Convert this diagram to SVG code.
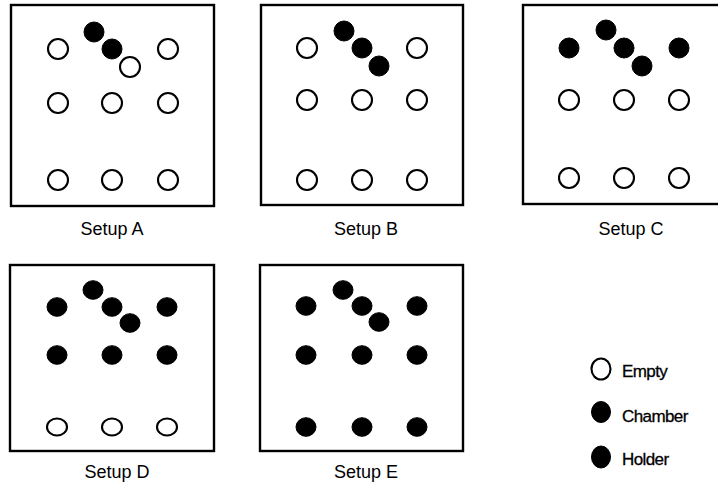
<svg xmlns="http://www.w3.org/2000/svg" width="718" height="489" viewBox="0 0 718 489">
<style>
.box{fill:#fff;stroke:#000;stroke-width:2.4}
.e{fill:#fff;stroke:#000;stroke-width:2.1}
.f{fill:#000;stroke:#000;stroke-width:1}
.lbl{font-family:"Liberation Sans",Arial,sans-serif;font-size:18px;fill:#000;text-anchor:middle}
.leg{font-family:"Liberation Sans",Arial,sans-serif;font-size:17px;fill:#000;stroke:#000;stroke-width:0.3;letter-spacing:-0.6px}
</style>
<rect width="718" height="489" fill="#fff"/>
<g id="setupA">
<rect class="box" x="11" y="5" width="203" height="201"/>
<circle class="f" cx="94" cy="32" r="10"/>
<circle class="e" cx="58" cy="49" r="10"/>
<circle class="f" cx="112" cy="49" r="10"/>
<circle class="e" cx="168" cy="49" r="10"/>
<circle class="e" cx="130" cy="67" r="10"/>
<circle class="e" cx="58" cy="103" r="10"/>
<circle class="e" cx="112" cy="103" r="10"/>
<circle class="e" cx="168" cy="103" r="10"/>
<circle class="e" cx="58" cy="180" r="10"/>
<circle class="e" cx="112" cy="180" r="10"/>
<circle class="e" cx="168" cy="180" r="10"/>
<text class="lbl" x="112" y="235">Setup A</text>
</g>
<g id="setupB">
<rect class="box" x="261" y="5" width="202" height="200"/>
<circle class="f" cx="344" cy="31" r="10"/>
<circle class="e" cx="307" cy="48" r="10"/>
<circle class="f" cx="362" cy="48" r="10"/>
<circle class="e" cx="417" cy="48" r="10"/>
<circle class="f" cx="379" cy="66" r="10"/>
<circle class="e" cx="307" cy="100" r="10"/>
<circle class="e" cx="362" cy="100" r="10"/>
<circle class="e" cx="417" cy="100" r="10"/>
<circle class="e" cx="307" cy="180" r="10"/>
<circle class="e" cx="362" cy="180" r="10"/>
<circle class="e" cx="417" cy="180" r="10"/>
<text class="lbl" x="366" y="235">Setup B</text>
</g>
<g id="setupC">
<rect class="box" x="523" y="5" width="202" height="199"/>
<circle class="f" cx="606" cy="30" r="10"/>
<circle class="f" cx="569" cy="48" r="10"/>
<circle class="f" cx="624" cy="48" r="10"/>
<circle class="f" cx="679" cy="48" r="10"/>
<circle class="f" cx="642" cy="66" r="10"/>
<circle class="e" cx="569" cy="100" r="10"/>
<circle class="e" cx="624" cy="100" r="10"/>
<circle class="e" cx="679" cy="100" r="10"/>
<circle class="e" cx="569" cy="178" r="10"/>
<circle class="e" cx="624" cy="178" r="10"/>
<circle class="e" cx="679" cy="178" r="10"/>
<text class="lbl" x="631" y="235">Setup C</text>
</g>
<g id="setupD">
<rect class="box" x="10" y="265" width="204" height="186"/>
<ellipse class="f" cx="93" cy="290" rx="10" ry="9.3"/>
<ellipse class="f" cx="57" cy="307" rx="10" ry="9.3"/>
<ellipse class="f" cx="112" cy="307" rx="10" ry="9.3"/>
<ellipse class="f" cx="167" cy="307" rx="10" ry="9.3"/>
<ellipse class="f" cx="130" cy="323" rx="10" ry="9.3"/>
<ellipse class="f" cx="57" cy="355" rx="10" ry="9.3"/>
<ellipse class="f" cx="112" cy="355" rx="10" ry="9.3"/>
<ellipse class="f" cx="167" cy="355" rx="10" ry="9.3"/>
<ellipse class="e" cx="57" cy="427" rx="10" ry="8.5"/>
<ellipse class="e" cx="112" cy="427" rx="10" ry="8.5"/>
<ellipse class="e" cx="167" cy="427" rx="10" ry="8.5"/>
<text class="lbl" x="117" y="478">Setup D</text>
</g>
<g id="setupE">
<rect class="box" x="260" y="265" width="203" height="186"/>
<ellipse class="f" cx="343" cy="290" rx="10" ry="9.3"/>
<ellipse class="f" cx="306" cy="306" rx="10" ry="9.3"/>
<ellipse class="f" cx="362" cy="306" rx="10" ry="9.3"/>
<ellipse class="f" cx="417" cy="306" rx="10" ry="9.3"/>
<ellipse class="f" cx="379" cy="322" rx="10" ry="9.3"/>
<ellipse class="f" cx="306" cy="355" rx="10" ry="9.3"/>
<ellipse class="f" cx="362" cy="355" rx="10" ry="9.3"/>
<ellipse class="f" cx="417" cy="355" rx="10" ry="9.3"/>
<ellipse class="f" cx="306" cy="427" rx="10" ry="9.3"/>
<ellipse class="f" cx="362" cy="427" rx="10" ry="9.3"/>
<ellipse class="f" cx="417" cy="427" rx="10" ry="9.3"/>
<text class="lbl" x="366" y="478">Setup E</text>
</g>
<g id="legend">
<ellipse class="e" cx="601" cy="369" rx="9.5" ry="10.5"/>
<text class="leg" x="622" y="377">Empty</text>
<ellipse class="f" cx="601" cy="412" rx="9.5" ry="10.5"/>
<text class="leg" x="622" y="422">Chamber</text>
<ellipse class="f" cx="601" cy="457" rx="9.5" ry="11"/>
<text class="leg" x="622" y="465">Holder</text>
</g>
<g id="connectors"/>
</svg>
